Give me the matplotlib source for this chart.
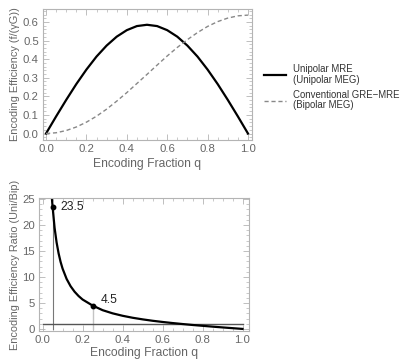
import matplotlib
matplotlib.use("Agg")
import matplotlib.pyplot as plt
from matplotlib.ticker import MultipleLocator
from matplotlib.lines import Line2D

plt.rcParams['font.family'] = ['Liberation Sans', 'DejaVu Sans']

# ---- data ----
q_eff = [0.0, 0.05, 0.1, 0.15, 0.2, 0.25, 0.3, 0.35, 0.4, 0.45, 0.5,
         0.55, 0.6, 0.65, 0.7, 0.75, 0.8, 0.85, 0.9, 0.95, 1.0]
unipolar = [0.0, 0.092, 0.181, 0.266, 0.344, 0.414, 0.473, 0.521, 0.556, 0.578, 0.585,
            0.578, 0.556, 0.521, 0.473, 0.414, 0.344, 0.266, 0.181, 0.092, 0.0]
bipolar = [0.0, 0.004, 0.016, 0.035, 0.061, 0.093, 0.131, 0.174, 0.220, 0.269, 0.318,
           0.368, 0.417, 0.463, 0.505, 0.543, 0.576, 0.602, 0.621, 0.633, 0.637]

q_ratio = [0.047, 0.05, 0.06, 0.07, 0.08, 0.09, 0.1, 0.12, 0.14, 0.16, 0.18, 0.2,
           0.25, 0.3, 0.35, 0.4, 0.45, 0.5, 0.55, 0.6, 0.65, 0.7, 0.75, 0.8,
           0.85, 0.9, 0.95, 1.0]
ratio = [24.9, 23.5, 19.45, 16.65, 14.55, 12.9, 11.6, 9.63, 8.22, 7.16, 6.33, 5.66,
         4.5, 3.61, 3.0, 2.53, 2.15, 1.84, 1.57, 1.34, 1.13, 0.94, 0.76, 0.60,
         0.44, 0.29, 0.145, 0.0]
marked_q = [0.05, 0.25]
marked_r = [23.5, 4.5]
marked_labels = ["23.5", "4.5"]
reference_level = 1.0

legend_labels = ["Unipolar MRE\n(Unipolar MEG)", "Conventional GRE\u2212MRE\n(Bipolar MEG)"]

FRAME = "#b4b4b4"
TXT = "#666666"
FS = 8.2

fig = plt.figure(figsize=(4.0, 3.59), dpi=100)


def style(ax):
    for s in ax.spines.values():
        s.set_color(FRAME)
        s.set_linewidth(0.8)
    ax.tick_params(which='both', direction='in', color=FRAME, top=True, right=True,
                   labeltop=False, labelright=False, labelcolor=TXT, labelsize=FS)
    ax.tick_params(which='major', length=4, width=0.6, pad=3)
    ax.tick_params(which='minor', length=2, width=0.5)


# ---- top panel ----
ax1 = fig.add_axes([0.1075, 0.61, 0.5225, 0.365])
style(ax1)
ax1.plot(q_eff, unipolar, color='black', lw=1.6)
ax1.plot(q_eff, bipolar, color='#888888', lw=1.0, ls=(0, (3, 2)))
ax1.set_xlim(-0.015, 1.02)
ax1.set_ylim(-0.035, 0.67)
ax1.xaxis.set_major_locator(MultipleLocator(0.2))
ax1.xaxis.set_minor_locator(MultipleLocator(0.05))
ax1.yaxis.set_major_locator(MultipleLocator(0.1))
ax1.yaxis.set_minor_locator(MultipleLocator(0.02))
ax1.xaxis.set_major_formatter(plt.FuncFormatter(lambda v, p: f"{v:.1f}"))
ax1.yaxis.set_major_formatter(plt.FuncFormatter(lambda v, p: f"{v:.1f}"))
ax1.set_xlabel("Encoding Fraction q", color=TXT, fontsize=FS + 0.5, labelpad=3)
ax1.set_ylabel("Encoding Efficiency (f/(\u03b3G))", color=TXT, fontsize=7.9, labelpad=2)

handles = [Line2D([], [], color='black', lw=1.6),
           Line2D([], [], color='#888888', lw=1.0, ls=(0, (3, 2)))]
leg = fig.legend(handles, legend_labels, loc='upper left', bbox_to_anchor=(0.66, 1 - 64 / 359),
                 frameon=False, fontsize=6.9, handlelength=2.3, handletextpad=0.7,
                 labelspacing=0.5, borderpad=0, borderaxespad=0, labelcolor='#333333')
for t in leg.get_texts():
    t.set_linespacing(1.1)

# ---- bottom panel ----
ax2 = fig.add_axes([0.098, 0.078, 0.524, 0.3705])
style(ax2)
ax2.set_xlim(-0.017, 1.0315)
ax2.set_ylim(-0.4, 25.2)
ax2.plot([marked_q[0], marked_q[0]], [0, marked_r[0]], color='#777777', lw=0.8)
ax2.plot([marked_q[1], marked_q[1]], [0, marked_r[1]], color='#c4c4c4', lw=1.0)
ax2.plot([0, 1], [reference_level, reference_level], color='#555555', lw=1.0)
ax2.plot(q_ratio, ratio, color='black', lw=1.6)
ax2.plot(marked_q, marked_r, 'o', color='black', ms=3.2)
for qx, ry, lab in zip(marked_q, marked_r, marked_labels):
    ax2.annotate(lab, (qx, ry), xytext=(6, 0 if ry > 10 else 4), textcoords='offset points',
                 fontsize=FS + 0.5, color='#222222', va='center', ha='left')
ax2.xaxis.set_major_locator(MultipleLocator(0.2))
ax2.xaxis.set_minor_locator(MultipleLocator(0.05))
ax2.yaxis.set_major_locator(MultipleLocator(5))
ax2.yaxis.set_minor_locator(MultipleLocator(1))
ax2.xaxis.set_major_formatter(plt.FuncFormatter(lambda v, p: f"{v:.1f}"))
ax2.set_xlabel("Encoding Fraction q", color=TXT, fontsize=FS + 0.5, labelpad=1)
ax2.set_ylabel("Encoding Efficiency Ratio (Uni/Bip)", color=TXT, fontsize=7.8, labelpad=2)

fig.savefig("out.png", dpi=100)
